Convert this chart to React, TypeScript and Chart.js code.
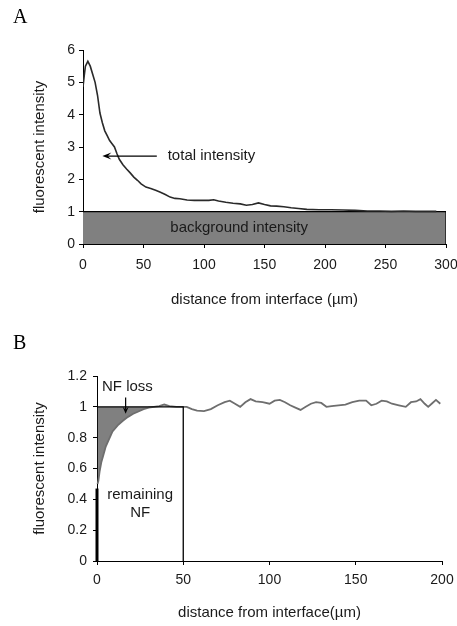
import React, { useEffect, useRef } from "react";
import { Chart, registerables } from "chart.js";

Chart.register(...registerables);

// ---------- Panel A data ----------
const A_X_MIN = 0;
const A_X_MAX = 300;
const A_X_STEP = 50;
const A_Y_MIN = 0;
const A_Y_MAX = 6;
const A_Y_STEP = 1;
const A_DISTANCE = [
  0, 1, 2, 4, 6, 8, 10, 12, 14, 16, 18, 20, 22, 24, 26, 28, 30, 33, 36, 39, 42, 45, 48,
  52, 56, 60, 64, 68, 72, 76, 80, 86, 92, 98, 104, 108, 112, 118, 124, 130, 135, 140,
  145, 150, 155, 160, 166, 172, 178, 185, 195, 205, 215, 225, 235, 245, 255, 265, 275,
  285, 292,
];
const A_TOTAL = [
  4.86, 5.2, 5.5, 5.65, 5.5, 5.25, 5.0, 4.6, 4.05, 3.75, 3.5, 3.35, 3.2, 3.1, 3.0, 2.8,
  2.62, 2.45, 2.32, 2.2, 2.07, 1.97, 1.86, 1.76, 1.72, 1.66, 1.6, 1.53, 1.45, 1.41, 1.4,
  1.36, 1.35, 1.35, 1.35, 1.37, 1.33, 1.29, 1.26, 1.24, 1.2, 1.22, 1.27, 1.22, 1.18,
  1.17, 1.15, 1.12, 1.1, 1.07, 1.06, 1.06, 1.05, 1.04, 1.02, 1.02, 1.01, 1.02, 1.01,
  1.01, 1.01,
];
const A_BACKGROUND_X = [0, 300, 300];
const A_BACKGROUND_Y = [1, 1, 0];
const A_X_TITLE = "distance from interface (µm)";
const A_Y_TITLE = "fluorescent intensity";
const A_LABEL_TOTAL = "total intensity";
const A_LABEL_BACKGROUND = "background intensity";
// annotation anchors in data units
const A_ARROW_FROM = [61, 2.72];
const A_ARROW_TO = [16, 2.72];
const A_TOTAL_TEXT_AT = [70, 2.72];
const A_BG_TEXT_AT = [129, 0.5];

// ---------- Panel B data ----------
const B_X_MIN = 0;
const B_X_MAX = 200;
const B_X_STEP = 50;
const B_Y_MIN = 0;
const B_Y_MAX = 1.2;
const B_Y_STEP = 0.2;
const B_DISTANCE = [
  0.3, 0.8, 1.5, 2.5, 3.5, 5, 7, 9, 12, 15, 18, 21, 24, 27, 30, 33, 36, 39, 42, 46, 50,
  52, 55, 58, 62, 66, 70, 74, 77, 80, 83, 86, 89, 92, 96, 100, 103, 106, 109, 112, 115,
  118, 121, 124, 127, 130, 133, 136, 140, 144, 148, 152, 156, 159, 162, 165, 168, 171,
  175, 179, 182, 185, 187.5, 190, 192, 194, 196.5, 199,
];
const B_INTENSITY = [
  0.5, 0.52, 0.58, 0.64, 0.68, 0.74, 0.79, 0.84, 0.88, 0.91, 0.935, 0.955, 0.97, 0.985,
  0.995, 1.0, 1.005, 1.015, 1.005, 1.0, 1.0, 1.0, 0.985, 0.975, 0.972, 0.985, 1.01, 1.03,
  1.04, 1.02, 1.0, 1.03, 1.05, 1.035, 1.03, 1.02, 1.04, 1.045, 1.03, 1.01, 0.995, 0.98,
  1.0, 1.02, 1.03, 1.025, 1.0, 1.005, 1.01, 1.015, 1.03, 1.04, 1.04, 1.01, 1.02, 1.04,
  1.035, 1.02, 1.01, 1.0, 1.03, 1.035, 1.05, 1.02, 1.0, 1.02, 1.045, 1.02,
];
const B_LOSS_LIMIT = 50; // x where the reference box ends
const B_REFERENCE_LEVEL = 1;
const B_BOX_X = [0, 50, 50];
const B_BOX_Y = [1, 1, 0];
const B_BASE_X = [0, 0];
const B_BASE_Y = [0, 0.47];
const B_X_TITLE = "distance from interface(µm)";
const B_Y_TITLE = "fluorescent intensity";
const B_LABEL_LOSS = "NF loss";
const B_LABEL_REMAIN = ["remaining", "NF"];
const B_LOSS_TEXT_AT = [2.9, 1.128];
const B_ARROW_FROM = [16.6, 1.06];
const B_ARROW_TO = [16.6, 0.955];
const B_REMAIN_TEXT_AT = [25, 0.43];
const B_REMAIN_LINE_GAP = 0.12;

const SANS = '"Liberation Sans", Arial, sans-serif';
const SERIF = '"Liberation Serif", "Times New Roman", serif';
const TEXT = "#1a1a1a";

function pts(xs: number[], ys: number[]) {
  return xs.map((x, i) => ({ x, y: ys[i] }));
}

function axisCommon(opts: {
  min: number;
  max: number;
  step: number;
  title: string;
  fixed: number;
  horizontal: boolean;
  titlePad: any;
  tickPad: number;
}) {
  return {
    type: "linear",
    min: opts.min,
    max: opts.max,
    afterFit: (scale: any) => {
      if (opts.horizontal) scale.height = opts.fixed;
      else scale.width = opts.fixed;
      scale.paddingLeft = 0;
      scale.paddingRight = 0;
      scale.paddingTop = 0;
      scale.paddingBottom = 0;
    },
    ticks: {
      stepSize: opts.step,
      color: TEXT,
      padding: opts.tickPad,
      font: { family: SANS, size: 14 },
      maxRotation: 0,
      autoSkip: false,
      callback: (v: number) => String(Math.round(v * 10) / 10),
    },
    grid: {
      drawOnChartArea: false,
      drawTicks: true,
      tickLength: 4,
      color: "#000",
      tickColor: "#000",
    },
    border: { display: true, color: "#000", width: 1 },
    title: {
      display: true,
      text: opts.title,
      color: TEXT,
      font: { family: SANS, size: 15 },
      padding: opts.titlePad,
    },
  };
}

function drawArrow(ctx: CanvasRenderingContext2D, x1: number, y1: number, x2: number, y2: number, head: number, half: number) {
  const ang = Math.atan2(y2 - y1, x2 - x1);
  ctx.beginPath();
  ctx.moveTo(x1, y1);
  ctx.lineTo(x2 - Math.cos(ang) * head * 0.6, y2 - Math.sin(ang) * head * 0.6);
  ctx.stroke();
  ctx.beginPath();
  ctx.moveTo(x2, y2);
  ctx.lineTo(x2 - Math.cos(ang) * head - Math.sin(ang) * half, y2 - Math.sin(ang) * head + Math.cos(ang) * half);
  ctx.lineTo(x2 - Math.cos(ang) * head * 0.6, y2 - Math.sin(ang) * head * 0.6);
  ctx.lineTo(x2 - Math.cos(ang) * head + Math.sin(ang) * half, y2 - Math.sin(ang) * head - Math.cos(ang) * half);
  ctx.closePath();
  ctx.fill();
}

const W = 457;
const HA = 318;
const HB = 308;

export default function App() {
  const refA = useRef<HTMLCanvasElement>(null);
  const refB = useRef<HTMLCanvasElement>(null);

  useEffect(() => {
    const annotA = {
      id: "annotA",
      afterDatasetsDraw(chart: any) {
        const { ctx, scales } = chart;
        const x = scales.x;
        const y = scales.y;
        ctx.save();
        ctx.fillStyle = "#000";
        ctx.font = `20px ${SERIF}`;
        ctx.textAlign = "left";
        ctx.textBaseline = "alphabetic";
        ctx.fillText("A", 13, 23);

        ctx.strokeStyle = "#000";
        ctx.lineWidth = 1.2;
        drawArrow(
          ctx,
          x.getPixelForValue(A_ARROW_FROM[0]),
          y.getPixelForValue(A_ARROW_FROM[1]),
          x.getPixelForValue(A_ARROW_TO[0]),
          y.getPixelForValue(A_ARROW_TO[1]),
          9,
          3.5
        );
        ctx.fillStyle = TEXT;
        ctx.font = `15px ${SANS}`;
        ctx.textBaseline = "middle";
        ctx.fillText(A_LABEL_TOTAL, x.getPixelForValue(A_TOTAL_TEXT_AT[0]), y.getPixelForValue(A_TOTAL_TEXT_AT[1]));
        ctx.textAlign = "center";
        ctx.fillText(A_LABEL_BACKGROUND, x.getPixelForValue(A_BG_TEXT_AT[0]), y.getPixelForValue(A_BG_TEXT_AT[1]));
        ctx.restore();
      },
    };

    const chartA = new Chart(refA.current as HTMLCanvasElement, {
      type: "line",
      data: {
        datasets: [
          {
            label: "total intensity",
            data: pts(A_DISTANCE, A_TOTAL),
            borderColor: "#2a2a2a",
            borderWidth: 1.6,
            pointRadius: 0,
            fill: false,
            tension: 0,
            order: 0,
          },
          {
            label: "background intensity",
            data: pts(A_BACKGROUND_X, A_BACKGROUND_Y),
            borderColor: "#000",
            borderWidth: 1.2,
            backgroundColor: "#808080",
            pointRadius: 0,
            fill: "origin",
            tension: 0,
            order: 1,
          },
        ],
      } as any,
      options: {
        responsive: false,
        animation: false,
        layout: { padding: { top: 50, right: 11, bottom: 0, left: 0 } },
        plugins: { legend: { display: false }, tooltip: { enabled: false } },
        scales: {
          x: axisCommon({
            min: A_X_MIN,
            max: A_X_MAX,
            step: A_X_STEP,
            title: A_X_TITLE,
            fixed: HA - 244,
            horizontal: true,
            titlePad: { top: 0, bottom: 9 },
            tickPad: 9,
          }),
          y: axisCommon({
            min: A_Y_MIN,
            max: A_Y_MAX,
            step: A_Y_STEP,
            title: A_Y_TITLE,
            fixed: 83,
            horizontal: false,
            titlePad: { top: 31, bottom: 0 },
            tickPad: 4,
          }),
        },
      } as any,
      plugins: [annotA],
    });

    const annotB = {
      id: "annotB",
      afterDatasetsDraw(chart: any) {
        const { ctx, scales } = chart;
        const x = scales.x;
        const y = scales.y;
        ctx.save();
        ctx.fillStyle = "#000";
        ctx.font = `20px ${SERIF}`;
        ctx.textAlign = "left";
        ctx.textBaseline = "alphabetic";
        ctx.fillText("B", 13, 31);

        ctx.fillStyle = TEXT;
        ctx.font = `15px ${SANS}`;
        ctx.textBaseline = "middle";
        ctx.fillText(B_LABEL_LOSS, x.getPixelForValue(B_LOSS_TEXT_AT[0]), y.getPixelForValue(B_LOSS_TEXT_AT[1]));
        ctx.textAlign = "center";
        B_LABEL_REMAIN.forEach((t, i) => {
          ctx.fillText(
            t,
            x.getPixelForValue(B_REMAIN_TEXT_AT[0]),
            y.getPixelForValue(B_REMAIN_TEXT_AT[1] - i * B_REMAIN_LINE_GAP)
          );
        });
        ctx.strokeStyle = "#000";
        ctx.fillStyle = "#000";
        ctx.lineWidth = 1.2;
        drawArrow(
          ctx,
          x.getPixelForValue(B_ARROW_FROM[0]),
          y.getPixelForValue(B_ARROW_FROM[1]),
          x.getPixelForValue(B_ARROW_TO[0]),
          y.getPixelForValue(B_ARROW_TO[1]),
          7,
          3
        );
        ctx.restore();
      },
    };

    const near = pts(B_DISTANCE, B_INTENSITY).filter((p) => p.x <= B_LOSS_LIMIT);
    const far = pts(B_DISTANCE, B_INTENSITY).filter((p) => p.x >= B_LOSS_LIMIT);

    const chartB = new Chart(refB.current as HTMLCanvasElement, {
      type: "line",
      data: {
        datasets: [
          {
            label: "profile (near)",
            data: near,
            borderColor: "#6e6e6e",
            borderWidth: 1.8,
            pointRadius: 0,
            tension: 0,
            fill: { target: { value: B_REFERENCE_LEVEL }, above: "rgba(0,0,0,0)", below: "#808080" },
            order: 2,
          },
          {
            label: "profile (far)",
            data: far,
            borderColor: "#6e6e6e",
            borderWidth: 1.8,
            pointRadius: 0,
            tension: 0,
            fill: false,
            order: 2,
          },
          {
            label: "reference box",
            data: pts(B_BOX_X, B_BOX_Y),
            borderColor: "#000",
            borderWidth: 1.3,
            pointRadius: 0,
            tension: 0,
            fill: false,
            order: 1,
          },
          {
            label: "base",
            data: pts(B_BASE_X, B_BASE_Y),
            borderColor: "#000",
            borderWidth: 3,
            pointRadius: 0,
            tension: 0,
            fill: false,
            order: 0,
          },
        ],
      } as any,
      options: {
        responsive: false,
        animation: false,
        clip: false,
        layout: { padding: { top: 58, right: 15, bottom: 0, left: 0 } },
        plugins: { legend: { display: false }, tooltip: { enabled: false } },
        scales: {
          x: axisCommon({
            min: B_X_MIN,
            max: B_X_MAX,
            step: B_X_STEP,
            title: B_X_TITLE,
            fixed: HB - 243,
            horizontal: true,
            titlePad: { top: 0, bottom: 4 },
            tickPad: 7,
          }),
          y: axisCommon({
            min: B_Y_MIN,
            max: B_Y_MAX,
            step: B_Y_STEP,
            title: B_Y_TITLE,
            fixed: 97,
            horizontal: false,
            titlePad: { top: 31, bottom: 0 },
            tickPad: 6,
          }),
        },
      } as any,
      plugins: [annotB],
    });

    return () => {
      chartA.destroy();
      chartB.destroy();
    };
  }, []);

  return (
    <div style={{ position: "absolute", left: 0, top: 0, width: W, height: HA + HB, background: "#fff" }}>
      <canvas ref={refA} width={W} height={HA} style={{ position: "absolute", left: 0, top: 0, width: W, height: HA }} />
      <canvas ref={refB} width={W} height={HB} style={{ position: "absolute", left: 0, top: HA, width: W, height: HB }} />
    </div>
  );
}
